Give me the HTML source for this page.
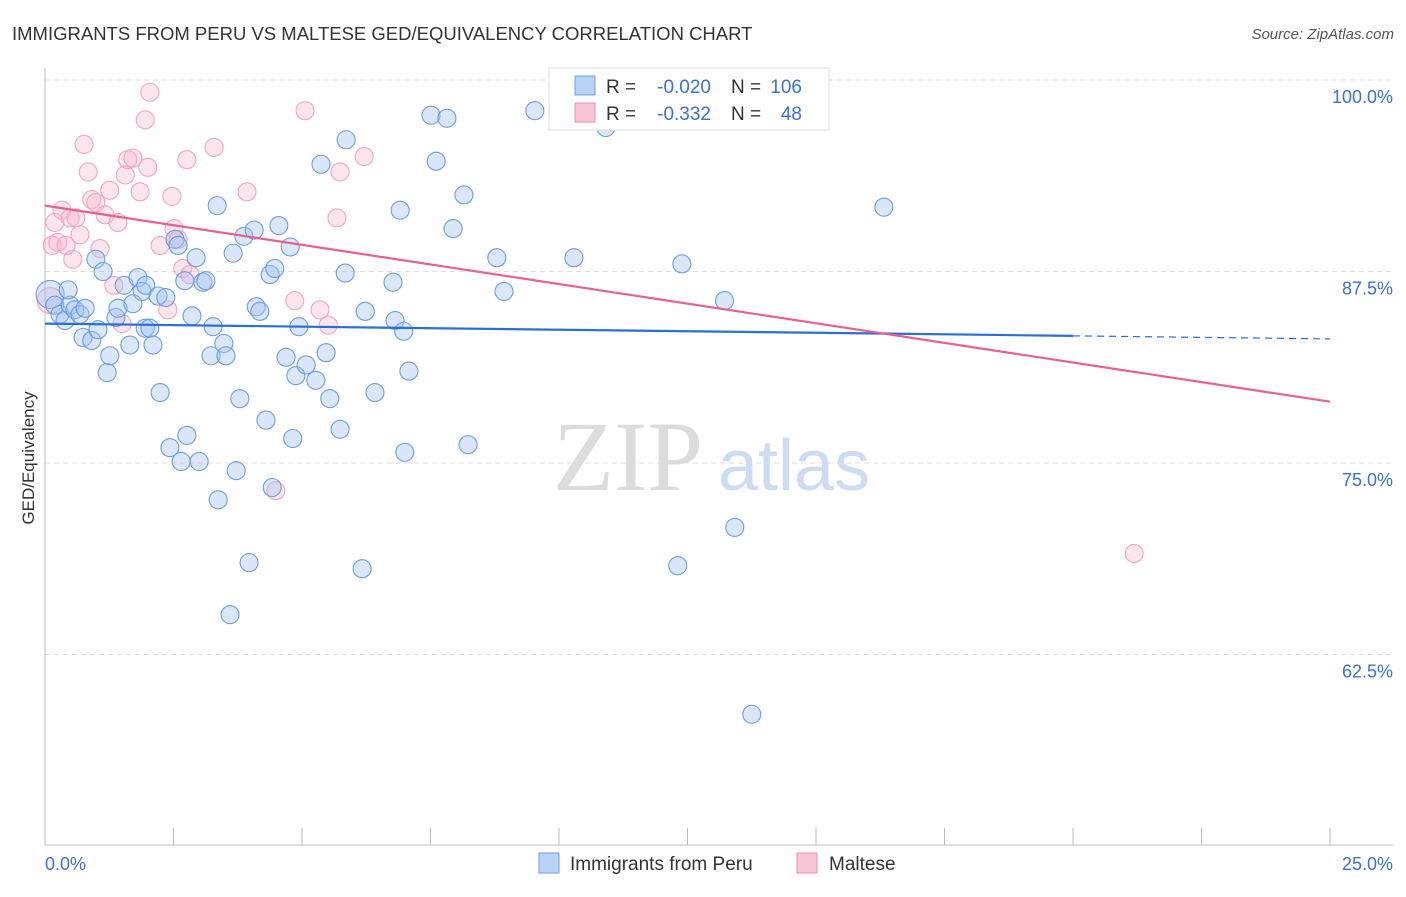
<!DOCTYPE html>
<html><head><meta charset="utf-8"><style>
body{margin:0;background:#fff;font-family:"Liberation Sans",sans-serif;}
</style></head><body>
<svg id="chart" width="1406" height="892" xmlns="http://www.w3.org/2000/svg" font-family="Liberation Sans, sans-serif">
<text x="12" y="40" font-size="18.5" fill="#333">IMMIGRANTS FROM PERU VS MALTESE GED/EQUIVALENCY CORRELATION CHART</text>
<text x="1394" y="39" font-size="15" fill="#555" font-style="italic" text-anchor="end">Source: ZipAtlas.com</text>
<text x="34" y="458" font-size="17" fill="#333" text-anchor="middle" transform="rotate(-90 34 458)">GED/Equivalency</text>
<g><text x="553" y="490" font-size="100" fill="#dcdcdc" font-family="Liberation Serif, serif">ZIP</text><text x="718" y="490" font-size="72" fill="#cddcf2">atlas</text></g>
<g id="grid"></g><g id="axes"></g>
<g id="pink"></g><g id="blue"></g><g id="trends"></g>
<g>
<rect x="549" y="68" width="280" height="62" fill="#fff" stroke="#ddd"/>
<rect x="575" y="76" width="20" height="19" fill="#b9d3f5" stroke="#6f9fe0"/>
<rect x="575" y="103" width="20" height="19" fill="#f9c6d6" stroke="#ec8fae"/>
<text x="606" y="93" font-size="19" fill="#333">R =</text>
<text x="711" y="93" font-size="19" fill="#3b70d6" text-anchor="end">-0.020</text>
<text x="731" y="93" font-size="19" fill="#333">N =</text>
<text x="802" y="93" font-size="19" fill="#3b70d6" text-anchor="end">106</text>
<text x="606" y="120" font-size="19" fill="#333">R =</text>
<text x="711" y="120" font-size="19" fill="#3b70d6" text-anchor="end">-0.332</text>
<text x="731" y="120" font-size="19" fill="#333">N =</text>
<text x="802" y="120" font-size="19" fill="#3b70d6" text-anchor="end">48</text>
</g>
<g>
<rect x="539" y="853" width="20" height="20" fill="#b9d3f5" stroke="#6f9fe0"/>
<text x="570" y="870" font-size="19" fill="#333">Immigrants from Peru</text>
<rect x="797" y="853" width="20" height="20" fill="#f9c6d6" stroke="#ec8fae"/>
<text x="829" y="870" font-size="19" fill="#333">Maltese</text>
</g>
</svg>
<script>
const xTicks=[0,2.5,5,7.5,10,12.5,15,17.5,20,22.5,25];
const yTicks=[100,87.5,75,62.5];
const yTickLabels=["100.0%","87.5%","75.0%","62.5%"];
const xEndLabels=["0.0%","25.0%"];
const blueX=[0.10,0.19,0.29,0.39,0.49,0.45,0.58,0.68,0.78,0.74,0.91,1.03,0.99,1.13,1.21,1.26,1.38,1.42,1.54,1.65,1.71,1.81,1.89,1.96,1.95,2.04,2.10,2.24,2.20,2.35,2.43,2.53,2.59,2.65,2.72,2.76,2.86,2.94,3.00,3.07,3.13,3.23,3.27,3.35,3.37,3.48,3.52,3.60,3.66,3.72,3.79,3.87,3.97,4.07,4.11,4.18,4.30,4.38,4.42,4.47,4.55,4.69,4.77,4.82,4.88,4.94,5.08,5.27,5.37,5.47,5.54,5.74,5.84,5.86,6.17,6.23,6.42,6.81,6.77,6.91,6.98,7.00,7.08,7.51,7.61,7.82,7.94,8.15,8.23,8.79,8.93,9.53,10.29,10.91,12.31,12.39,13.22,13.42,13.75,16.32];
const blueY=[86.0,85.3,84.7,84.3,85.3,86.3,85.0,84.7,85.1,83.2,83.0,83.7,88.3,87.5,80.9,82.0,84.5,85.1,86.6,82.7,85.4,87.1,86.2,86.6,83.8,83.8,82.7,79.6,85.9,85.8,76.0,89.6,89.2,75.1,86.9,76.8,84.6,88.4,75.1,86.8,86.9,82.0,83.9,91.8,72.6,82.8,82.0,65.1,88.7,74.5,79.2,89.8,68.5,90.2,85.2,84.9,77.8,87.3,73.4,87.7,90.5,81.9,89.1,76.6,80.7,83.9,81.4,80.4,94.5,82.2,79.2,77.2,87.4,96.1,68.1,84.9,79.6,84.3,86.8,91.5,83.6,75.7,81.0,97.7,94.7,97.5,90.3,92.5,76.2,88.4,86.2,98.0,88.4,96.9,68.3,88.0,85.6,70.8,58.6,91.7];
const pinkX=[0.10,0.14,0.19,0.25,0.33,0.41,0.49,0.54,0.60,0.68,0.76,0.84,0.91,0.99,1.07,1.17,1.26,1.34,1.42,1.50,1.56,1.61,1.71,1.85,1.95,2.00,2.04,2.24,2.39,2.47,2.51,2.59,2.68,2.76,2.82,3.29,3.93,4.49,4.86,5.06,5.35,5.51,5.68,5.74,6.21,21.19];
const pinkY=[85.6,89.2,90.7,89.4,91.5,89.2,91.0,88.3,91.0,89.9,95.8,94.0,92.2,92.0,89.0,91.2,92.8,86.6,90.7,84.1,93.8,94.8,94.9,92.7,97.4,94.3,99.2,89.2,85.0,92.4,90.3,89.6,87.7,94.8,87.3,95.6,92.7,73.2,85.6,98.0,85.0,84.0,91.0,94.0,95.0,69.1];
const blueTrend=[84.1,83.1];
const pinkTrend=[91.8,79.0];
const blueSolidEnd=20;
const NS="http://www.w3.org/2000/svg";
const X=v=>45+v/25*1285;
const Y=v=>80+(100-v)/12.5*191.5;
function mk(tag,parent,attrs){const e=document.createElementNS(NS,tag);for(const k in attrs)e.setAttribute(k,attrs[k]);document.getElementById(parent).appendChild(e);return e;}
yTicks.forEach((t,i)=>{
  const l=mk('line','grid',{x1:45,x2:1393,y1:Y(t),y2:Y(t),stroke:'#ddd','stroke-dasharray':'5,4'});
  
  
  const tx=mk('text','grid',{x:1393,y:Y(t)+23,'font-size':18,fill:'#3b70d6','text-anchor':'end'});
  tx.textContent=yTickLabels[i];
  
  
});
const ax=mk('line','axes',{x1:45,x2:1393,y1:845,y2:845,stroke:'#bbb'});


const ay=mk('line','axes',{x1:45,x2:45,y1:68,y2:845,stroke:'#bbb'});


xTicks.forEach(t=>{
  const l=mk('line','axes',{x1:X(t),x2:X(t),y1:828,y2:845,stroke:'#bbb'});
  
  
});
const xl0=mk('text','axes',{x:45,y:870,'font-size':18,fill:'#3b70d6'});xl0.textContent=xEndLabels[0];


const xl1=mk('text','axes',{x:1393,y:870,'font-size':18,fill:'#3b70d6','text-anchor':'end'});xl1.textContent=xEndLabels[1];


pinkX.forEach((v,i)=>{
  const c=mk('circle','pink',{cx:X(v),cy:Y(pinkY[i]),r:i===0?13:9,fill:'rgba(248,180,202,0.35)',stroke:'#f0a6bf','stroke-width':1.1});
  
  
});
blueX.forEach((v,i)=>{
  const c=mk('circle','blue',{cx:X(v),cy:Y(blueY[i]),r:i===0?14:9,fill:'rgba(160,196,240,0.4)',stroke:'#6c9de2','stroke-width':1.1});
  
  
});
const bAt=x=>blueTrend[0]+(blueTrend[1]-blueTrend[0])*x/25;
const t1=mk('line','trends',{x1:X(0),y1:Y(bAt(0)),x2:X(blueSolidEnd),y2:Y(bAt(blueSolidEnd)),stroke:'#2a6fd6','stroke-width':2.2});


const t2=mk('line','trends',{x1:X(blueSolidEnd),y1:Y(bAt(blueSolidEnd)),x2:X(25),y2:Y(bAt(25)),stroke:'#2a6fd6','stroke-width':1.2,'stroke-dasharray':'7,5'});


const t3=mk('line','trends',{x1:X(0),y1:Y(pinkTrend[0]),x2:X(25),y2:Y(pinkTrend[1]),stroke:'#e8608c','stroke-width':2.2});


</script>
</body></html>
